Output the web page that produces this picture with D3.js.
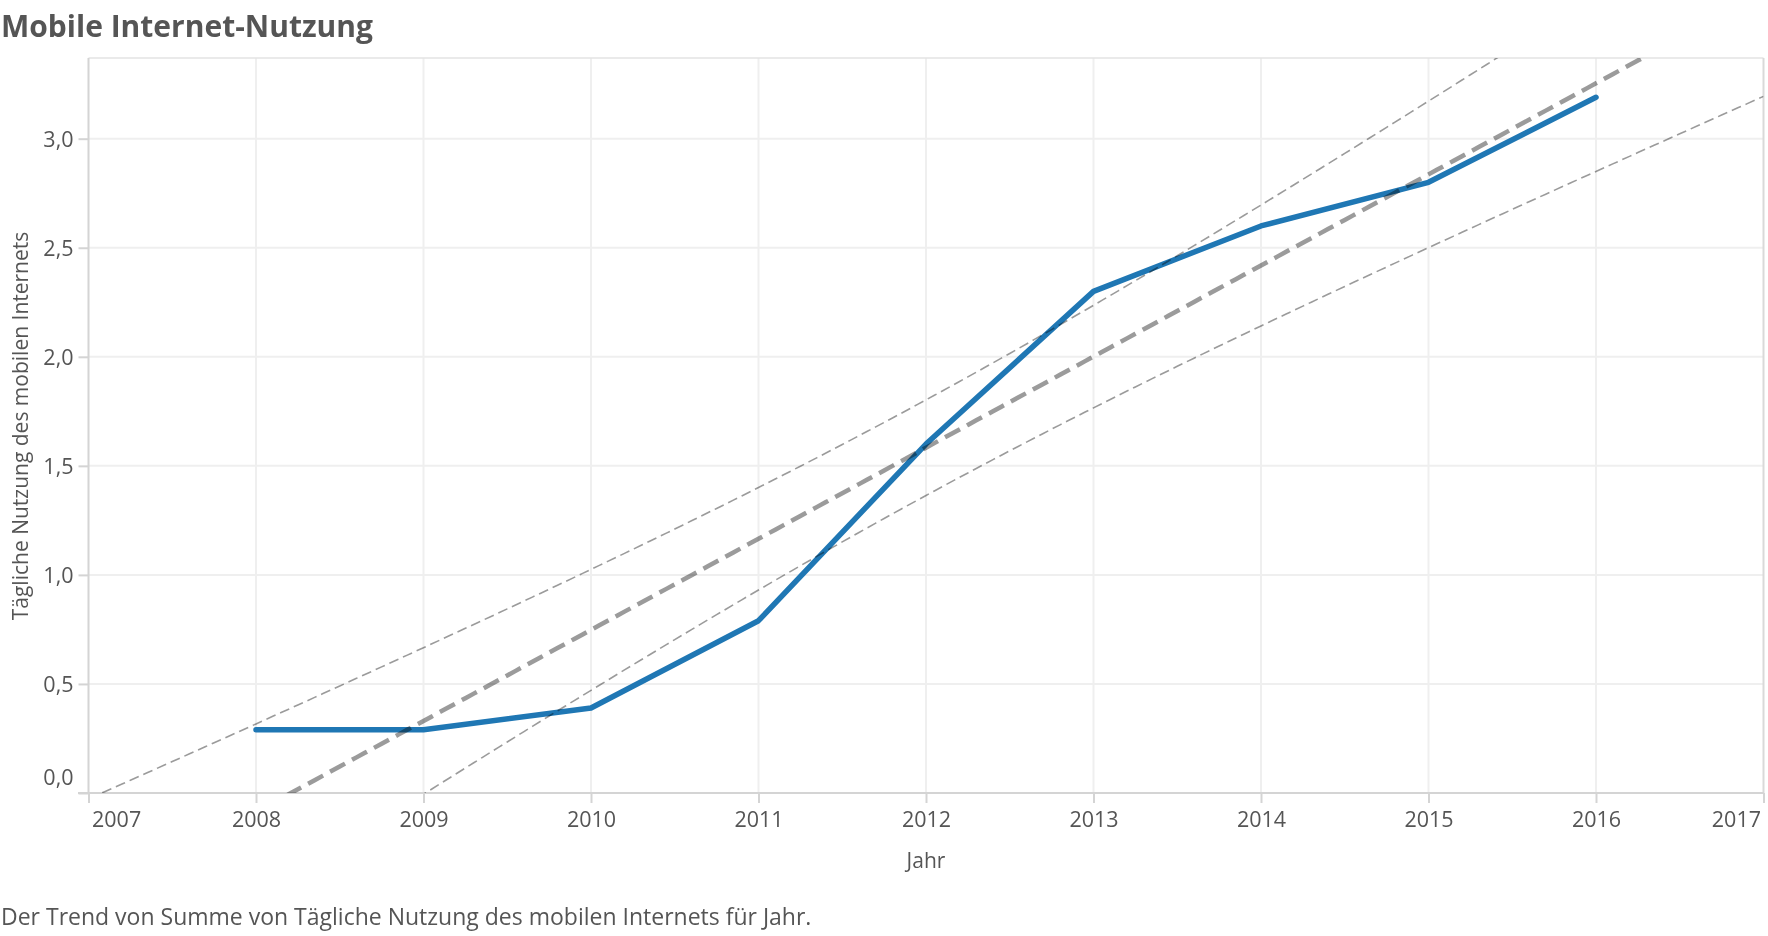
<!DOCTYPE html>
<html>
<head>
<meta charset="utf-8">
<script src="https://cdn.jsdelivr.net/npm/d3@7"></script>
<style>
  body { margin: 0; background: #fff; }
  text { font-family: "Open Sans", Lato, sans-serif; fill: #555; }
</style>
</head>
<body>
<script>
// data
var years = [2008, 2009, 2010, 2011, 2012, 2013, 2014, 2015, 2016];
var usage = [0.29, 0.29, 0.39, 0.79, 1.6, 2.3, 2.6, 2.8, 3.19];
var xTicks = [2007, 2008, 2009, 2010, 2011, 2012, 2013, 2014, 2015, 2016, 2017];
var yTicks = [0, 0.5, 1, 1.5, 2, 2.5, 3];

var title = "Mobile Internet-Nutzung";
var xTitle = "Jahr";
var yTitle = "Tägliche Nutzung des mobilen Internets";
var footer = "Der Trend von Summe von Tägliche Nutzung des mobilen Internets für Jahr.";

var W = 1768, H = 936;
var plot = { left: 88.5, right: 1763.5, top: 58, bottom: 793 };

var svg = d3.select("body").append("svg")
  .attr("width", W)
  .attr("height", H);

// scales
var x = d3.scaleLinear().domain([2007, 2017]).range([plot.left, plot.right]);
var y = d3.scaleLinear().domain([0, 3.37]).range([plot.bottom, plot.top]);

// gridlines
svg.append("g").selectAll("line")
  .data(xTicks.slice(1, -1))
  .enter().append("line")
  .attr("x1", function (d) { return x(d); })
  .attr("x2", function (d) { return x(d); })
  .attr("y1", plot.top).attr("y2", plot.bottom)
  .attr("stroke", "#efefef").attr("stroke-width", 2);

svg.append("g").selectAll("line")
  .data(yTicks.slice(1))
  .enter().append("line")
  .attr("x1", plot.left).attr("x2", plot.right)
  .attr("y1", function (d) { return y(d); })
  .attr("y2", function (d) { return y(d); })
  .attr("stroke", "#efefef").attr("stroke-width", 2);

// frame
svg.append("line").attr("x1", plot.left).attr("x2", plot.right)
  .attr("y1", plot.top).attr("y2", plot.top)
  .attr("stroke", "#e3e3e3").attr("stroke-width", 1.5);
svg.append("line").attr("x1", plot.right).attr("x2", plot.right)
  .attr("y1", plot.top).attr("y2", plot.bottom)
  .attr("stroke", "#d9d9d9").attr("stroke-width", 2);

// y axis
var yAxis = svg.append("g")
  .attr("transform", "translate(" + plot.left + ",0)")
  .call(d3.axisLeft(y).tickValues(yTicks).tickSize(10).tickPadding(5)
    .tickFormat(function (d) { return d3.format(".1f")(d).replace(".", ","); }));
yAxis.select(".domain").remove();
yAxis.selectAll("line").attr("stroke", "#d4d4d4").attr("stroke-width", 2);
yAxis.selectAll("text")
  .style("font-size", "21.5px").attr("fill", "#555")
  .attr("dy", function (d) { return d === 0 ? "-0.4em" : "0.35em"; });
svg.append("line").attr("x1", plot.left).attr("x2", plot.left)
  .attr("y1", plot.top).attr("y2", plot.bottom)
  .attr("stroke", "#d4d4d4").attr("stroke-width", 2);

// x axis
var xAxis = svg.append("g")
  .attr("transform", "translate(0," + plot.bottom + ")")
  .call(d3.axisBottom(x).tickValues(xTicks).tickSize(10).tickPadding(9)
    .tickFormat(d3.format("d")));
xAxis.select(".domain").remove();
xAxis.selectAll("line").attr("stroke", "#d4d4d4").attr("stroke-width", 2);
xAxis.selectAll("text").style("font-size", "21.5px").attr("fill", "#555");
xAxis.selectAll(".tick").filter(function (d) { return d === 2007; })
  .select("text").attr("text-anchor", "start").attr("x", 3);
xAxis.selectAll(".tick").filter(function (d) { return d === 2017; })
  .select("text").attr("text-anchor", "end").attr("x", -3);
svg.append("line").attr("x1", 78).attr("x2", plot.right)
  .attr("y1", plot.bottom).attr("y2", plot.bottom)
  .attr("stroke", "#d4d4d4").attr("stroke-width", 2);

// titles
svg.append("text").attr("x", 1).attr("y", 37)
  .style("font-size", "30px").style("font-weight", "bold").text(title);
svg.append("text").attr("x", x(2012)).attr("y", 868)
  .attr("text-anchor", "middle").style("font-size", "21px").text(xTitle);
svg.append("text")
  .attr("transform", "translate(28,426) rotate(-90)")
  .attr("text-anchor", "middle").style("font-size", "21px").text(yTitle);
svg.append("text").attr("x", 1).attr("y", 925)
  .style("font-size", "23px").text(footer);

// clip to plot area
svg.append("clipPath").attr("id", "plotclip")
  .append("rect").attr("x", plot.left).attr("y", plot.top)
  .attr("width", plot.right - plot.left).attr("height", plot.bottom - plot.top);

// data line
var line = d3.line()
  .x(function (d, i) { return x(years[i]); })
  .y(function (d) { return y(d); });

svg.append("path")
  .datum(usage)
  .attr("d", line)
  .attr("fill", "none")
  .attr("stroke", "#1f77b4")
  .attr("stroke-width", 5.5)
  .attr("stroke-linecap", "round")
  .attr("stroke-linejoin", "round");

// linear trend with 95% confidence band of the mean
var n = years.length;
var mx = d3.mean(years), my = d3.mean(usage);
var sxx = d3.sum(years, function (d) { return (d - mx) * (d - mx); });
var sxy = d3.sum(years, function (d, i) { return (d - mx) * (usage[i] - my); });
var slope = sxy / sxx;
var icpt = my - slope * mx;
var sse = d3.sum(years, function (d, i) { var r = usage[i] - (icpt + slope * d); return r * r; });
var se = Math.sqrt(sse / (n - 2));
var tCrit = 2.3646; // t(0.975, df = 7)

var xs = d3.range(2007, 2017.001, 0.05);
function band(k) {
  return xs.map(function (v) {
    var h = tCrit * se * Math.sqrt(1 / n + (v - mx) * (v - mx) / sxx);
    return [v, icpt + slope * v + k * h];
  });
}

var tline = d3.line()
  .x(function (d) { return x(d[0]); })
  .y(function (d) { return y(d[1]); });

var trend = svg.append("g")
  .attr("clip-path", "url(#plotclip)")
  .style("mix-blend-mode", "multiply");

trend.append("path")
  .datum(band(0))
  .attr("d", tline)
  .attr("fill", "none")
  .attr("stroke", "#9b9b9b")
  .attr("stroke-width", 4.5)
  .attr("stroke-dasharray", "17,8");

[-1, 1].forEach(function (k) {
  trend.append("path")
    .datum(band(k))
    .attr("d", tline)
    .attr("fill", "none")
    .attr("stroke", "#9b9b9b")
    .attr("stroke-width", 1.6)
    .attr("stroke-dasharray", "10,5");
});
</script>
</body>
</html>
